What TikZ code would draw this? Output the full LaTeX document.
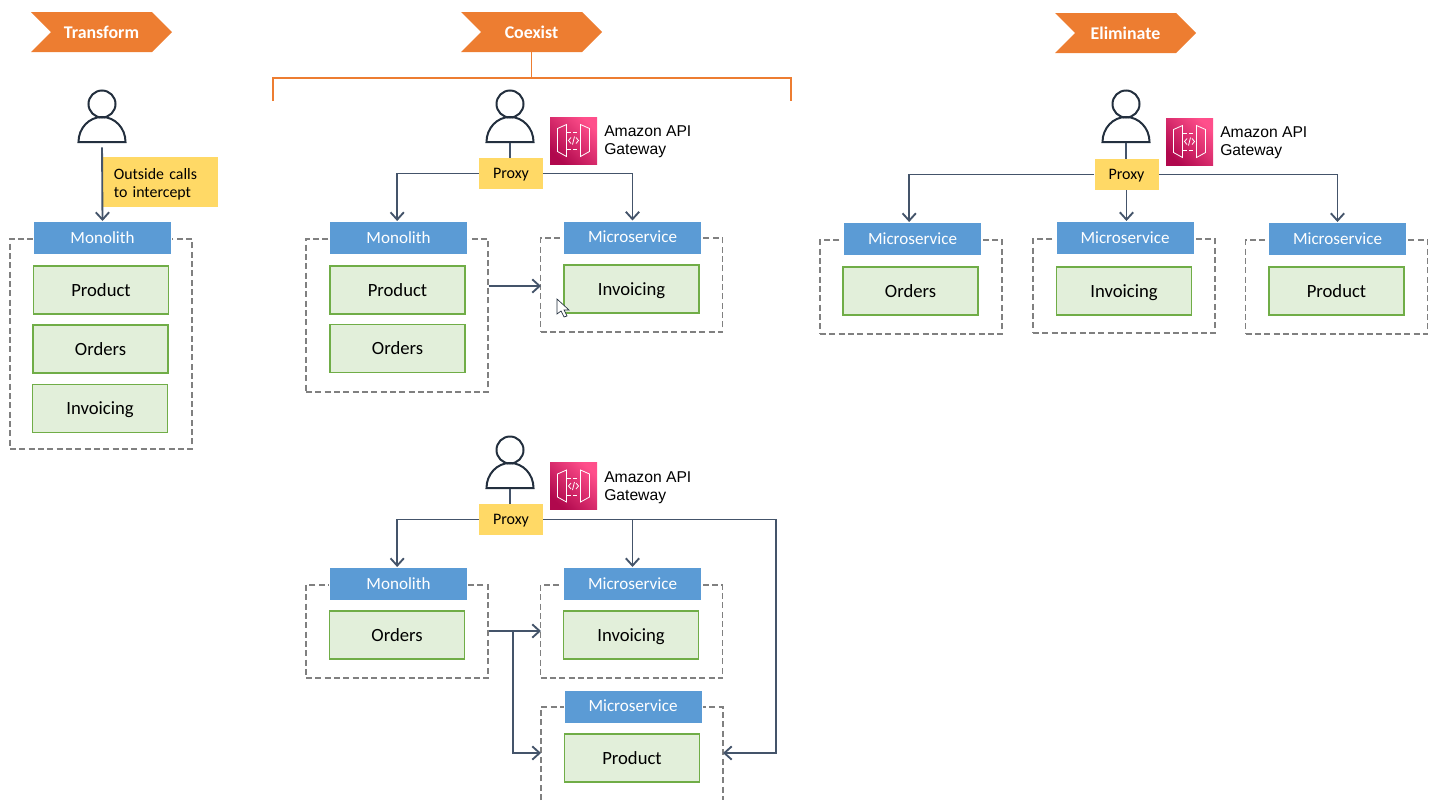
\documentclass[tikz,border=0pt]{standalone}
\usepackage{fontspec}
\setmainfont{Carlito}
\newfontfamily\awsfont{Liberation Sans}
\usetikzlibrary{shapes.symbols}
\usetikzlibrary{arrows.meta}
\definecolor{tagorange}{HTML}{ED7D31}
\definecolor{headblue}{HTML}{5B9BD5}
\definecolor{modfill}{HTML}{E2EFDA}
\definecolor{modline}{HTML}{70AD47}
\definecolor{noteyellow}{HTML}{FFD966}
\definecolor{wire}{HTML}{44546A}
\definecolor{usercol}{HTML}{232F3E}
\definecolor{apidark}{HTML}{B0084D}
\definecolor{apilight}{HTML}{FF4F8B}
\tikzstyle{tag}=[signal,signal from=west,signal to=east,fill=tagorange,text=white,inner sep=0mm,minimum width=105.75pt,minimum height=30pt,font=\bfseries\fontsize{13.4}{13.4}\selectfont]
\tikzstyle{head}=[rectangle,fill=headblue,draw=white,line width=0.5pt,text=white,inner sep=0mm,text height=8pt,text depth=0pt,minimum width=103.75pt,minimum height=25pt,font=\fontsize{12.8}{12.8}\selectfont]
\tikzstyle{module}=[rectangle,fill=modfill,draw=modline,line width=1.1pt,inner sep=0mm,text height=9pt,text depth=0pt,minimum width=101pt,minimum height=36pt,font=\fontsize{14}{14}\selectfont]
\tikzstyle{svcbox}=[rectangle,draw=gray,line width=1.1pt,dash pattern=on 4.5pt off 2.5pt,inner sep=0mm,minimum width=136.5pt]
\tikzstyle{proxy}=[rectangle,fill=noteyellow,inner sep=0mm,text height=8pt,text depth=0pt,minimum width=48pt,minimum height=23.5pt,font=\fontsize{12}{12}\selectfont]
\tikzstyle{note}=[rectangle,fill=noteyellow,inner xsep=8pt,inner ysep=0mm,text width=70pt,minimum height=37.5pt,align=left,font=\fontsize{11.9}{13.5}\selectfont]
\tikzstyle{arrow}=[wire,line width=1.4pt,-{Straight Barb[length=5.5pt,width=10pt]}]
\tikzstyle{wireline}=[wire,line width=1.4pt]
\tikzstyle{bracket}=[tagorange,line width=1.1pt]
\tikzstyle{apilabel}=[anchor=west,inner sep=0mm,align=left,font=\awsfont\fontsize{11.75}{13.5}\selectfont]
\newcommand\personicon[3]{
  \node[inner sep=0mm,minimum width=35pt,minimum height=39pt] at (#2,#3) (#1) {};
  \begin{scope}[shift={(#2,#3)},usercol,line width=1.5pt]
    \draw (0,-13) circle[radius=13.5];
    \draw (-23.5,25) -- (23.5,25) arc[start angle=0,end angle=-180,x radius=23.5,y radius=25] -- cycle;
  \end{scope}
}
\newcommand\apiicon[3]{
  \node[rectangle,bottom color=apidark,top color=apilight,shading angle=-45,inner sep=0mm,minimum size=35.25pt] at (#2,#3) (#1) {};
  \begin{scope}[shift={(#2,#3)},white,line width=0.6pt]
    \draw (-16,-12) -- (-7,-16) -- (-7,16) -- (-16,11) -- cycle;
    \draw (16,-12) -- (7,-16) -- (7,16) -- (16,11) -- cycle;
    \draw[densely dashed] (-7,-8) -- (7,-8) (-7,9) -- (7,9);
    \draw (-2.5,-3) -- (-5,0) -- (-2.5,3) (2.5,-3) -- (5,0) -- (2.5,3) (-1,4) -- (1,-4);
  \end{scope}
}

\begin{document}
\begin{tikzpicture}[x=0.75pt,y=-0.75pt]
      \useasboundingbox (0,0) rectangle (1437,800);
      % tags
      \node[tag] at (101.5,32) (transform) {Transform};
      \node[tag] at (531.5,32) (coexist) {Coexist};
      \node[tag] at (1125.5,33) (eliminate) {Eliminate};
      \coordinate (bracketL) at (273,101);
      \coordinate (bracketR) at (791,101);
      \coordinate (bracketM) at (531.5,78);
      \draw[bracket] (coexist.south) -- (bracketM);
      \draw[bracket] (bracketL) |- (bracketM) -| (bracketR);
      % transform
      \personicon{userA}{102}{117}
      \node[svcbox,minimum height=157.5pt] at (101,344) (boxA) {};
      \node[head] at (102.5,238) (monoA) {Monolith};
      \node[module] at (101,290) (productA) {Product};
      \node[module] at (100.5,349) (ordersA) {Orders};
      \node[module] at (100,408.5) (invoicingA) {Invoicing};
      \node[note] at (160.5,182) (noteA) {\rule{0pt}{11pt}Outside calls\\to intercept};
      \draw[arrow,shorten <=3pt] (userA.south) -- (monoA.north);
      % coexist, upper
      \personicon{userB}{510}{117}
      \apiicon{apiB}{573.5}{140.5}
      \node[apilabel] at (604,142) (apiTextB) {Amazon API\\Gateway};
      \node[proxy] at (511,173.5) (proxyB) {Proxy};
      \node[svcbox,minimum height=114.75pt] at (397,315.5) (boxB) {};
      \node[svcbox,minimum height=70.5pt] at (631.5,285) (boxC) {};
      \node[head] at (398.5,238) (monoB) {Monolith};
      \node[module] at (397.5,290) (productB) {Product};
      \node[module] at (397.5,348.5) (ordersB) {Orders};
      \node[head] at (632.5,237.5) (microB) {Microservice};
      \node[module] at (631.5,289) (invoicingB) {Invoicing};
      \coordinate (callB) at (541,286);
      \draw[wireline] (userB.south) -- (proxyB.north -| userB.south);
      \draw[arrow] (proxyB.west) -| ([xshift=-1pt]monoB.north);
      \draw[arrow] (proxyB.east) -| (microB.north);
      \draw[arrow] (boxB.east |- callB) -- (callB);
      % pointer left in the screenshot
      \draw[usercol,fill=white,line width=0.5pt] (557,299) -- (557,314) -- (561,311) -- (564,317) -- (567,316) -- (564,310) -- (569,310) -- cycle;
      % coexist, lower
      \personicon{userC}{510}{463}
      \apiicon{apiC}{573.5}{486}
      \node[apilabel] at (604,488) (apiTextC) {Amazon API\\Gateway};
      \node[proxy] at (511,519.5) (proxyC) {Proxy};
      \node[svcbox,minimum height=70pt] at (397,631.5) (boxD) {};
      \node[svcbox,minimum height=70pt] at (631.5,631.5) (boxE) {};
      \draw[svcbox] (541,800) -- (541,707) -- (723,707) -- (723,800);
      \node[head] at (398.5,584) (monoC) {Monolith};
      \node[module] at (397,635) (ordersC) {Orders};
      \node[head] at (632.5,584) (microC) {Microservice};
      \node[module] at (631,635) (invoicingC) {Invoicing};
      \node[head] at (633,706.5) (microD) {Microservice};
      \node[module] at (632,758) (productC) {Product};
      \coordinate (callC) at (541,631);
      \coordinate (branchC) at (513,631);
      \coordinate (callD) at (541,753);
      \coordinate (sideD) at (723,753);
      \coordinate (cornerC) at (776,519.5);
      \draw[wireline] (userC.south) -- (proxyC.north -| userC.south);
      \draw[arrow] (proxyC.west) -| ([xshift=-1pt]monoC.north);
      \draw[arrow] (proxyC.east) -| (microC.north);
      \draw[arrow] (proxyC.east) -- (cornerC) |- (sideD);
      \draw[arrow] (boxD.east |- callC) -- (callC);
      \draw[arrow] (branchC) |- (callD);
      % eliminate
      \personicon{userD}{1126}{117}
      \apiicon{apiD}{1189.5}{141.5}
      \node[apilabel] at (1220,143) (apiTextD) {Amazon API\\Gateway};
      \node[proxy] at (1126.5,174.5) (proxyD) {Proxy};
      \node[svcbox,minimum height=70.5pt] at (911,287) (boxF) {};
      \node[svcbox,minimum height=70.5pt] at (1124,286) (boxG) {};
      \node[svcbox,minimum height=70.5pt] at (1336.5,287) (boxH) {};
      \node[head] at (912.5,239) (microE) {Microservice};
      \node[module] at (910.5,291) (ordersD) {Orders};
      \node[head] at (1125,238) (microF) {Microservice};
      \node[module] at (1124,291) (invoicingD) {Invoicing};
      \node[head] at (1337.5,239) (microG) {Microservice};
      \node[module] at (1336.5,291) (productD) {Product};
      \draw[wireline] (userD.south) -- (proxyD.north -| userD.south);
      \draw[arrow] (proxyD.west) -| ([xshift=-2.5pt]microE.north);
      \draw[arrow] (proxyD.south) -- (proxyD.south |- microF.north);
      \draw[arrow] (proxyD.east) -| (microG.north);
    \end{tikzpicture}
\end{document}
